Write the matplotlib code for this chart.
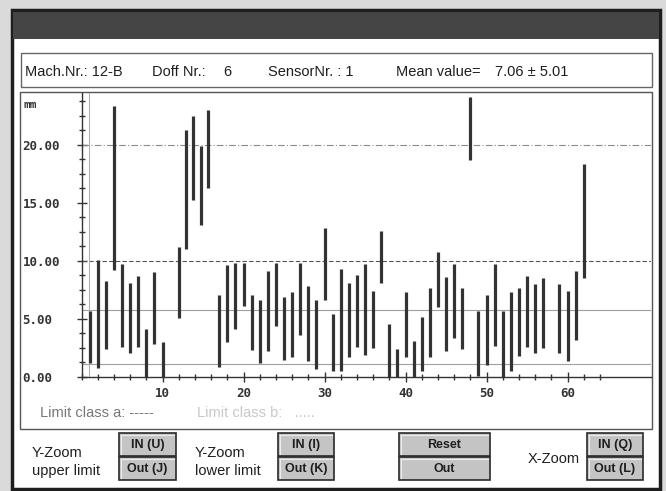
import numpy as np
import matplotlib
matplotlib.use("Agg")
import matplotlib.pyplot as plt
from matplotlib.patches import Rectangle
from matplotlib.ticker import FixedLocator

# measurement positions (doff index) and min / max per position, in mm
positions = [1, 2, 3, 4, 5, 6, 7, 8, 9, 10,
             12, 12.9, 13.8, 14.7, 15.6,
             17, 18, 19, 20, 21, 22, 23, 24, 25, 26, 27, 28, 29, 30,
             31, 32, 33, 34, 35, 36, 37, 38, 39, 40,
             41, 42, 43, 44, 45, 46, 47, 48, 49, 50,
             51, 52, 53, 54, 55, 56, 57, 59, 60, 61, 62]
low_mm = [1.2, 0.8, 2.4, 9.2, 2.6, 2.1, 2.6, 0.0, 2.8, 0.0,
          5.1, 11.0, 15.2, 13.1, 16.3,
          0.9, 3.0, 4.1, 6.1, 2.3, 1.2, 2.2, 4.4, 1.5, 1.7, 3.6, 1.4, 0.7, 6.6,
          0.5, 0.5, 1.7, 2.6, 1.9, 2.5, 8.1, 0.0, 0.0, 1.7,
          0.0, 0.5, 1.7, 6.0, 2.2, 3.4, 2.4, 18.7, 0.1, 1.0,
          2.7, 0.0, 0.5, 1.8, 2.6, 2.1, 2.5, 2.1, 1.4, 3.2, 8.5]
high_mm = [5.7, 10.1, 8.3, 23.3, 9.7, 8.1, 8.7, 4.1, 9.0, 3.0,
           11.2, 21.3, 22.5, 19.9, 23.0,
           7.1, 9.6, 9.8, 9.8, 7.1, 6.6, 9.1, 9.8, 6.9, 7.3, 9.8, 7.8, 6.6, 12.8,
           5.4, 9.3, 8.1, 8.8, 9.7, 7.4, 12.6, 4.6, 2.4, 7.3,
           3.1, 5.2, 7.7, 10.8, 8.6, 9.7, 7.7, 24.1, 5.7, 7.1,
           9.7, 5.7, 7.3, 7.7, 8.7, 8.0, 8.5, 8.0, 7.4, 9.1, 18.3]

limit_a = 10.0
limit_upper = 20.0
ref_lines = [5.8, 1.1]

W, H = 666, 491
fig = plt.figure(figsize=(W / 100, H / 100), dpi=100)
fig.patch.set_facecolor("#dadada")

# background "window" drawn in pixel coordinates
bg = fig.add_axes([0, 0, 1, 1])
bg.set_xlim(0, W)
bg.set_ylim(H, 0)
bg.axis("off")

bg.add_patch(Rectangle((12, 10), 648, 479, facecolor="white", edgecolor="#1e1e1e", lw=2.5))
bg.add_patch(Rectangle((13, 12), 646, 27, facecolor="#454545", edgecolor="none"))
bg.add_patch(Rectangle((21, 53), 631, 34, facecolor="white", edgecolor="#666666", lw=1))
bg.add_patch(Rectangle((20, 92), 632, 337, facecolor="white", edgecolor="#555555", lw=1))

info_font = dict(family="Liberation Sans", fontsize=10.5, color="#1e1e1e", va="center")
bg.text(25, 72, "Mach.Nr.: 12-B", **info_font)
bg.text(152, 72, "Doff Nr.:", **info_font)
bg.text(223, 72, "6", **info_font)
bg.text(268, 72, "SensorNr. : 1", **info_font)
bg.text(396, 72, "Mean value=", **info_font)
bg.text(495, 72, "7.06 \u00b1 5.01", **info_font)

bg.text(23, 105, "mm", family="DejaVu Sans Mono", fontweight="bold", fontsize=8,
        color="#333333", va="center")

bg.text(40, 413, "Limit class a: -----", family="Liberation Sans", fontsize=10.5,
        color="#777777", va="center")
bg.text(197, 413, "Limit class b:   .....", family="Liberation Sans", fontsize=10.5,
        color="#c8c8c8", va="center")

# buttons
buttons = [
    (119, 433, 57, "IN (U)"), (119, 457, 57, "Out (J)"),
    (278, 433, 56, "IN (I)"), (278, 457, 56, "Out (K)"),
    (399, 433, 91, "Reset"), (399, 457, 91, "Out"),
    (587, 433, 56, "IN (Q)"), (587, 457, 56, "Out (L)"),
]
for bx, by, bw, label in buttons:
    bg.add_patch(Rectangle((bx, by), bw, 23, facecolor="#c4c4c4", edgecolor="#2a2a2a", lw=1.2))
    bg.plot([bx + 2, bx + bw - 2], [by + 2, by + 2], color="#ececec", lw=0.8)
    bg.plot([bx + 2, bx + 2], [by + 2, by + 21], color="#ececec", lw=0.8)
    bg.text(bx + bw / 2, by + 12, label, family="Liberation Sans", fontweight="bold",
            fontsize=9, color="#1e1e1e", ha="center", va="center")

lab_font = dict(family="Liberation Sans", fontsize=10.5, color="#1e1e1e", va="center")
bg.text(32, 453, "Y-Zoom", **lab_font)
bg.text(32, 471, "upper limit", **lab_font)
bg.text(195, 453, "Y-Zoom", **lab_font)
bg.text(195, 471, "lower limit", **lab_font)
bg.text(528, 459, "X-Zoom", **lab_font)

# chart area
x0_px, x1_px, y0_px, y1_px = 81.5, 651, 377, 93
ax = fig.add_axes([x0_px / W, 1 - y0_px / H, (x1_px - x0_px) / W, (y0_px - y1_px) / H])
ax.patch.set_alpha(0)
ax.set_xlim(0, 70.3)
ax.set_ylim(0, 24.45)

ax.axhline(limit_upper, color="#8a8a8a", lw=0.8, ls=(0, (6, 2, 1, 2)))
ax.axhline(limit_a, color="#555555", lw=0.8, ls=(0, (4, 2)))
for v in ref_lines:
    ax.axhline(v, color="#a0a0a0", lw=0.8)
ax.axvline(0.87, color="#b0b0b0", lw=0.8)

ax.vlines(positions, low_mm, high_mm, color="#333333", lw=2.3, zorder=3)

for s in ["top", "right"]:
    ax.spines[s].set_visible(False)
for s in ["left", "bottom"]:
    ax.spines[s].set_color("#333333")
    ax.spines[s].set_linewidth(1)

ax.set_xticks([10, 20, 30, 40, 50, 60])
ax.xaxis.set_minor_locator(FixedLocator(np.arange(0, 65, 2)))
ax.set_yticks([0, 5, 10, 15, 20])
ax.set_yticklabels(["%.2f" % v for v in [0, 5, 10, 15, 20]])
ax.yaxis.set_minor_locator(FixedLocator(np.arange(0, 24, 1.25)))

ax.tick_params(which="both", direction="inout", color="#333333", width=1)
ax.tick_params(which="major", length=7)
ax.tick_params(which="minor", length=5)
ax.tick_params(axis="x", which="major", pad=4, labelsize=9, labelcolor="#333333")
ax.tick_params(axis="y", which="major", pad=39, labelsize=9, labelcolor="#333333")
for lbl in ax.get_xticklabels() + ax.get_yticklabels():
    lbl.set_fontfamily("DejaVu Sans Mono")
    lbl.set_fontweight("bold")
for lbl in ax.get_yticklabels():
    lbl.set_horizontalalignment("left")

fig.savefig("out.png", dpi=100, facecolor=fig.get_facecolor())
